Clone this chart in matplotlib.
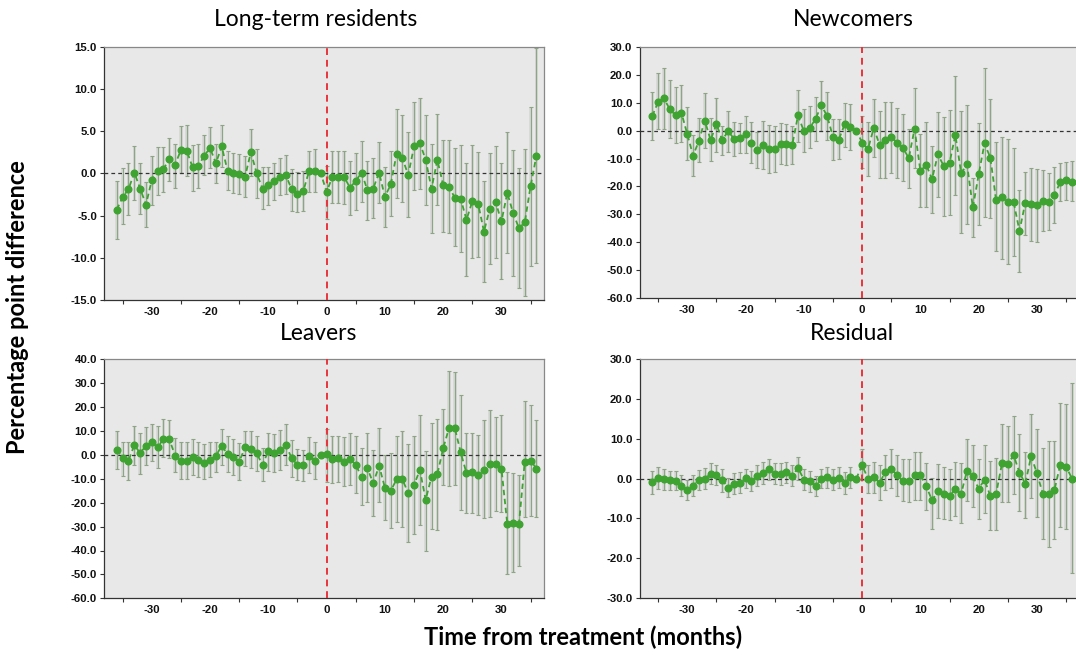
import numpy as np
import matplotlib
matplotlib.use("Agg")
import matplotlib.pyplot as plt
from matplotlib.ticker import FormatStrFormatter, MultipleLocator

plt.rcParams["axes.unicode_minus"] = False

months = np.arange(-36, 37)
nan = np.nan

# Long-term residents
ltr_est = [-4.3, -2.8, -1.9, 0.1, -1.8, -3.7, -0.8, 0.3, 0.5, 1.7, 1.0, 2.8, 2.7, 0.7, 0.9, 2.1, 3.0, 1.2, 3.2, 0.3,
           0.0, -0.1, -0.4, 2.5, 0.0, -1.8, -1.4, -0.9, -0.4, -0.2, -1.9, -2.4, -2.1, 0.3, 0.3, 0.0, -2.2,
           -0.4, -0.4, -0.4, -1.7, -0.9, 0.1, -2.0, -1.8, 0.1, -2.8, -1.3, 2.3, 1.8, -0.2, 3.2, 3.6, 1.6, -1.8,
           1.6, -1.4, -1.6, -2.9, -3.0, -5.5, -3.3, -3.6, -6.9, -4.2, -3.4, -5.7, -2.3, -4.7, -6.5, -5.8, -1.5, 2.1]
ltr_lo = [-7.8, -6.0, -4.9, -3.1, -4.8, -6.4, -3.7, -2.6, -2.2, -0.9, -1.7, 0.0, -0.3, -2.1, -1.7, -0.2, 0.6, -1.1, 0.7,
          -2.0, -2.3, -2.5, -2.8, -0.3, -2.9, -4.2, -3.7, -3.1, -2.6, -2.5, -4.4, -4.6, -4.5, -2.2, -2.2, nan, -5.4,
          -3.5, -3.5, -3.6, -4.9, -4.3, -3.4, -5.5, -5.3, -3.5, -6.4, -5.0, -2.9, -3.4, -5.2, -2.0, -1.8, -3.8, -7.1,
          -3.8, -6.9, -7.1, -8.6, -9.3, -12.1, -10.0, -9.9, -12.9, -10.7, -10.0, -12.5, -9.4, -12.2, -13.6, -14.5,
          -11.0, -10.6]
ltr_hi = [-0.9, 0.6, 1.2, 3.2, 1.2, -1.0, 2.1, 3.1, 3.1, 4.2, 3.5, 5.6, 5.7, 3.4, 3.5, 4.5, 5.5, 3.5, 5.7, 2.7, 2.4,
          2.3, 2.1, 5.2, 2.9, 0.7, 0.7, 1.2, 1.8, 2.2, 0.5, 0.2, 0.3, 2.7, 2.9, nan, 0.9,
          2.6, 2.7, 2.7, 1.5, 2.4, 3.8, 1.5, 1.8, 3.7, 0.7, 2.6, 7.6, 6.9, 4.9, 8.4, 8.9, 6.9, 3.5, 7.0, 3.9, 3.9,
          3.0, 3.3, 1.2, 3.3, 2.5, -0.9, 2.4, 3.2, 1.2, 4.9, 2.8, 0.6, 2.9, 7.9, 14.9]

# Newcomers
new_est = [5.2, 10.3, 11.5, 7.6, 5.4, 6.3, -1.3, -9.0, -3.6, 3.6, -3.4, 2.3, -3.4, -0.2, -2.9, -2.8, -1.4, -4.4, -6.8,
           -5.2, -6.5, -6.6, -4.7, -4.9, -5.2, 5.4, -0.2, 0.9, 4.1, 9.0, 5.2, -2.3, -3.2, 2.2, 1.1, 0.0, -4.3,
           -6.7, 1.0, -5.2, -3.4, -2.2, -4.4, -6.1, -9.9, 0.6, -14.5, -12.2, -17.4, -8.5, -12.7, -11.5, -1.6, -15.3,
           -12.1, -27.5, -15.7, -4.6, -9.7, -25.0, -23.7, -25.5, -25.6, -35.9, -25.8, -26.3, -26.8, -25.2, -25.5,
           -23.1, -18.4, -17.7, -18.3]
new_lo = [-3.2, 0.5, 0.5, -2.8, -4.6, -4.2, -10.6, -16.3, -11.4, -6.4, -10.9, -7.5, -8.7, -7.5, -9.0, -8.1, -7.9, -11.7,
          -13.3, -13.8, -15.3, -14.7, -12.1, -12.3, -12.1, -4.2, -7.8, -6.4, -3.8, -0.2, -3.4, -10.5, -10.2, -5.8,
          -7.0, nan, -13.5, -16.3, -9.6, -17.1, -17.1, -15.1, -16.9, -17.9, -20.7, -13.5, -27.3, -27.5, -29.4, -23.7,
          -30.5, -30.3, -22.9, -36.6, -33.6, -38.0, -33.8, -30.8, -31.1, -43.0, -45.9, -47.7, -44.9, -50.7, -37.2,
          -39.4, -40.0, -36.1, -35.6, -33.2, -25.1, -24.8, -25.2]
new_hi = [13.7, 20.5, 22.5, 18.1, 15.5, 16.3, 8.3, -1.6, 4.4, 13.3, 4.4, 11.8, 1.7, 7.1, 3.2, 2.6, 5.3, 2.9, -0.6, 3.5,
          2.0, 1.7, 2.8, 2.3, 1.6, 14.5, 7.6, 8.8, 12.1, 17.8, 13.9, 4.1, 4.1, 10.0, 9.4, nan, 5.2,
          2.9, 11.3, 7.0, 10.3, 10.3, 8.2, 5.9, 0.7, 15.1, -1.3, 2.9, -5.4, 6.7, 5.0, 7.5, 19.5, 7.1, 9.1, -16.9,
          2.8, 22.3, 11.3, -4.0, -2.2, -3.1, -6.4, -21.2, -14.9, -13.5, -13.7, -14.1, -15.3, -12.9, -11.7, -11.3,
          -10.9]

# Leavers
lea_est = [2.1, -1.4, -2.5, 4.2, 0.7, 3.9, 5.3, 3.1, 6.7, 6.6, -0.3, -2.6, -2.5, -0.7, -2.1, -3.5, -2.1, -0.4, 3.8,
           0.3, -0.7, -2.8, 3.1, 2.4, 0.7, -4.2, 1.7, 1.0, 2.1, 4.2, -1.4, -4.2, -4.2, -0.3, -2.5, 0.0, 0.2,
           -1.8, -1.5, -2.8, -1.8, -4.2, -9.1, -5.6, -11.9, -4.5, -13.7, -15.1, -10.2, -10.2, -16.0, -12.6, -6.3,
           -18.8, -9.1, -8.1, 2.8, 11.2, 11.2, 1.1, -7.7, -7.3, -8.6, -6.3, -3.8, -3.8, -5.9, -28.9, -28.6, -28.9,
           -2.8, -2.4, -5.7]
lea_lo = [-6.0, -8.8, -10.7, -4.2, -7.9, -4.3, -2.5, -5.6, -1.0, -1.4, -7.3, -10.2, -10.2, -8.4, -9.3, -10.2, -9.1,
          -7.3, -4.3, -7.0, -8.4, -10.5, -4.5, -5.6, -6.8, -10.9, -6.8, -7.0, -6.3, -4.3, -9.1, -10.5, -10.9, -7.7,
          -10.0, nan, -11.2, -11.6, -11.4, -13.0, -12.6, -16.0, -20.9, -19.5, -25.4, -19.5, -27.2, -30.7, -27.9,
          -30.3, -36.5, -33.2, -29.3, -40.0, -31.0, -31.4, -12.8, -13.0, -12.8, -23.0, -24.4, -24.4, -25.1, -26.5,
          -26.1, -23.4, -23.7, -49.9, -48.8, -46.4, -25.8, -25.4, -26.1]
lea_hi = [10.2, 5.6, 5.6, 12.1, 9.3, 11.8, 13.0, 12.1, 14.9, 14.6, 7.0, 5.2, 5.4, 6.7, 5.6, 4.5, 5.3, 5.6, 10.7, 7.9,
          6.6, 4.9, 10.2, 9.8, 7.9, 2.8, 9.1, 8.6, 10.5, 13.0, 6.3, 2.4, 2.1, 7.4, 5.6, nan, 10.9,
          8.0, 8.0, 7.4, 9.1, 7.7, 2.8, 9.1, 2.1, 11.4, 0.0, 0.7, 7.7, 9.8, 4.6, 7.7, 16.7, 1.8, 13.2, 14.9, 19.0,
          35.3, 34.6, 25.1, 9.3, 9.3, 8.4, 14.4, 18.8, 16.0, 16.7, -7.3, -7.7, -8.4, 22.6, 20.9, 14.4]

# Residual
res_est = [-0.8, 0.2, -0.1, -0.4, -0.6, -1.8, -2.8, -1.8, -0.3, 0.0, 1.1, 0.8, -0.4, -2.3, -1.3, -1.1, 0.1, -0.7, 0.6,
           1.4, 2.4, 1.2, 1.1, 1.6, 0.6, 2.7, -0.3, -0.7, -1.9, -0.1, 0.3, -0.3, 0.2, -1.1, 0.3, 0.0, 3.3,
           0.0, 0.3, -1.1, 1.7, 2.4, 0.8, -0.7, -0.7, 0.8, 0.8, -1.9, -5.5, -3.2, -3.8, -4.3, -2.6, -3.8, 2.0, 0.6,
           -2.6, -0.3, -4.4, -3.8, 3.8, 3.7, 5.8, 1.5, -1.3, 5.6, 1.3, -3.8, -3.8, -2.9, 3.5, 3.0, 0.0]
res_lo = [-3.8, -2.6, -2.8, -2.9, -3.0, -4.3, -5.4, -4.4, -2.8, -2.6, -1.5, -1.7, -3.3, -4.7, -3.8, -3.6, -2.5, -3.2,
          -1.9, -1.3, -0.3, -1.3, -1.6, -1.1, -1.9, -0.3, -3.0, -3.4, -4.3, -2.5, -2.3, -2.8, -2.3, -3.8, -2.3, nan,
          -0.5, -3.6, -3.6, -5.3, -2.8, -2.3, -4.4, -5.7, -5.9, -5.3, -5.3, -7.8, -12.6, -9.9, -10.1, -10.5, -9.5,
          -11.1, -5.7, -7.1, -10.1, -8.6, -13.0, -13.0, -5.9, -5.9, -3.8, -8.2, -9.9, -4.9, -9.7, -15.3, -17.2,
          -15.3, -12.1, -12.8, -23.8]
res_hi = [2.0, 2.8, 2.4, 2.0, 1.8, 1.0, -0.3, 1.0, 2.1, 2.7, 3.8, 3.5, 2.4, 0.2, 1.4, 1.6, 2.4, 1.8, 3.3, 4.1, 5.0,
          3.9, 3.9, 4.1, 3.3, 5.4, 2.3, 1.8, 0.6, 2.4, 2.8, 2.4, 2.8, 1.6, 2.8, nan, 7.3,
          3.5, 4.2, 3.5, 6.0, 7.3, 6.0, 4.8, 4.9, 6.7, 6.7, 3.9, 0.2, 3.7, 2.8, 2.3, 4.1, 3.8, 10.0, 8.4, 4.9, 8.3,
          4.4, 5.2, 13.7, 13.3, 15.6, 11.2, 6.6, 16.3, 12.5, 7.7, 9.5, 9.5, 19.0, 18.7, 24.0]

titles = ["Long-term residents", "Newcomers", "Leavers", "Residual"]
y_limits = [(-15, 15), (-60, 30), (-60, 40), (-30, 30)]
y_steps = [5, 10, 10, 10]

W, H = 1076, 655
# axes boxes in pixels: left, top, right, bottom
boxes = [(104, 46.7, 544, 300), (639.5, 46.7, 1079.5, 298.3),
         (104, 359.3, 544, 598.3), (639.5, 359, 1079.5, 598)]
title_pos = [(316, 20), (853, 20), (319, 333), (852, 333)]

GREEN = "#3fa332"
BAR = "#8da585"

fig = plt.figure(figsize=(W / 100, H / 100), dpi=100)

series = [(ltr_est, ltr_lo, ltr_hi), (new_est, new_lo, new_hi),
          (lea_est, lea_lo, lea_hi), (res_est, res_lo, res_hi)]

for i, (est, lo, hi) in enumerate(series):
    l, t, r, b = boxes[i]
    ax = fig.add_axes([l / W, 1 - b / H, (r - l) / W, (b - t) / H])
    ax.set_facecolor("#e8e8e8")

    est = np.array(est)
    lo = np.array(lo)
    hi = np.array(hi)
    ok = ~np.isnan(lo)

    # faint band behind each interval
    ax.bar(months[ok], hi[ok] - lo[ok], bottom=lo[ok], width=0.6,
           color="#d6d6d6", alpha=0.8, zorder=1)
    ax.errorbar(months[ok], est[ok], yerr=[est[ok] - lo[ok], hi[ok] - est[ok]],
                fmt="none", ecolor=BAR, elinewidth=0.9, capsize=1.7, capthick=0.8, zorder=2)

    ax.axhline(0, color="#333333", lw=0.9, ls=(0, (3, 2.5)), zorder=3)
    ax.axvline(0, color="#e8343c", lw=1.4, ls=(0, (3.5, 2.5)), zorder=3)

    ax.plot(months, est, color=GREEN, lw=1.3, ls=(0, (3, 2)), zorder=4)
    ax.plot(months, est, "o", color=GREEN, ms=4.8, zorder=5)

    ax.set_xlim(-38.2, 37.3)
    ax.set_ylim(*y_limits[i])
    ax.yaxis.set_major_locator(MultipleLocator(y_steps[i]))
    ax.yaxis.set_major_formatter(FormatStrFormatter("%.1f"))
    ax.set_xticks(np.arange(-30, 31, 10))
    ax.set_xticks(np.arange(-35, 36, 10), minor=True)
    ax.tick_params(axis="x", which="major", length=0, pad=5)
    ax.tick_params(axis="x", which="minor", length=3, width=0.8, color="#333333")
    ax.tick_params(axis="y", length=3, width=0.8, color="#333333", pad=2)
    for lab in ax.get_xticklabels() + ax.get_yticklabels():
        lab.set_fontfamily("Liberation Sans")
        lab.set_fontweight("bold")
        lab.set_fontsize(8.2)
        lab.set_color("#111111")

    ax.spines["left"].set_color("#333333")
    ax.spines["bottom"].set_color("#333333")
    ax.spines["top"].set_color("#888888")
    ax.spines["right"].set_color("#888888")
    for s in ax.spines.values():
        s.set_linewidth(0.9)

    tx, ty = title_pos[i]
    fig.text(tx / W, 1 - ty / H, titles[i], ha="center", va="center",
             fontsize=16.5, family="Lato")

fig.text(18 / W, 1 - 307 / H, "Percentage point difference", rotation=90,
         ha="center", va="center", fontsize=17, fontweight="bold", family="Lato")
fig.text(583 / W, 1 - 637 / H, "Time from treatment (months)",
         ha="center", va="center", fontsize=17, fontweight="bold", family="Lato")

fig.savefig("out.png", dpi=100)
